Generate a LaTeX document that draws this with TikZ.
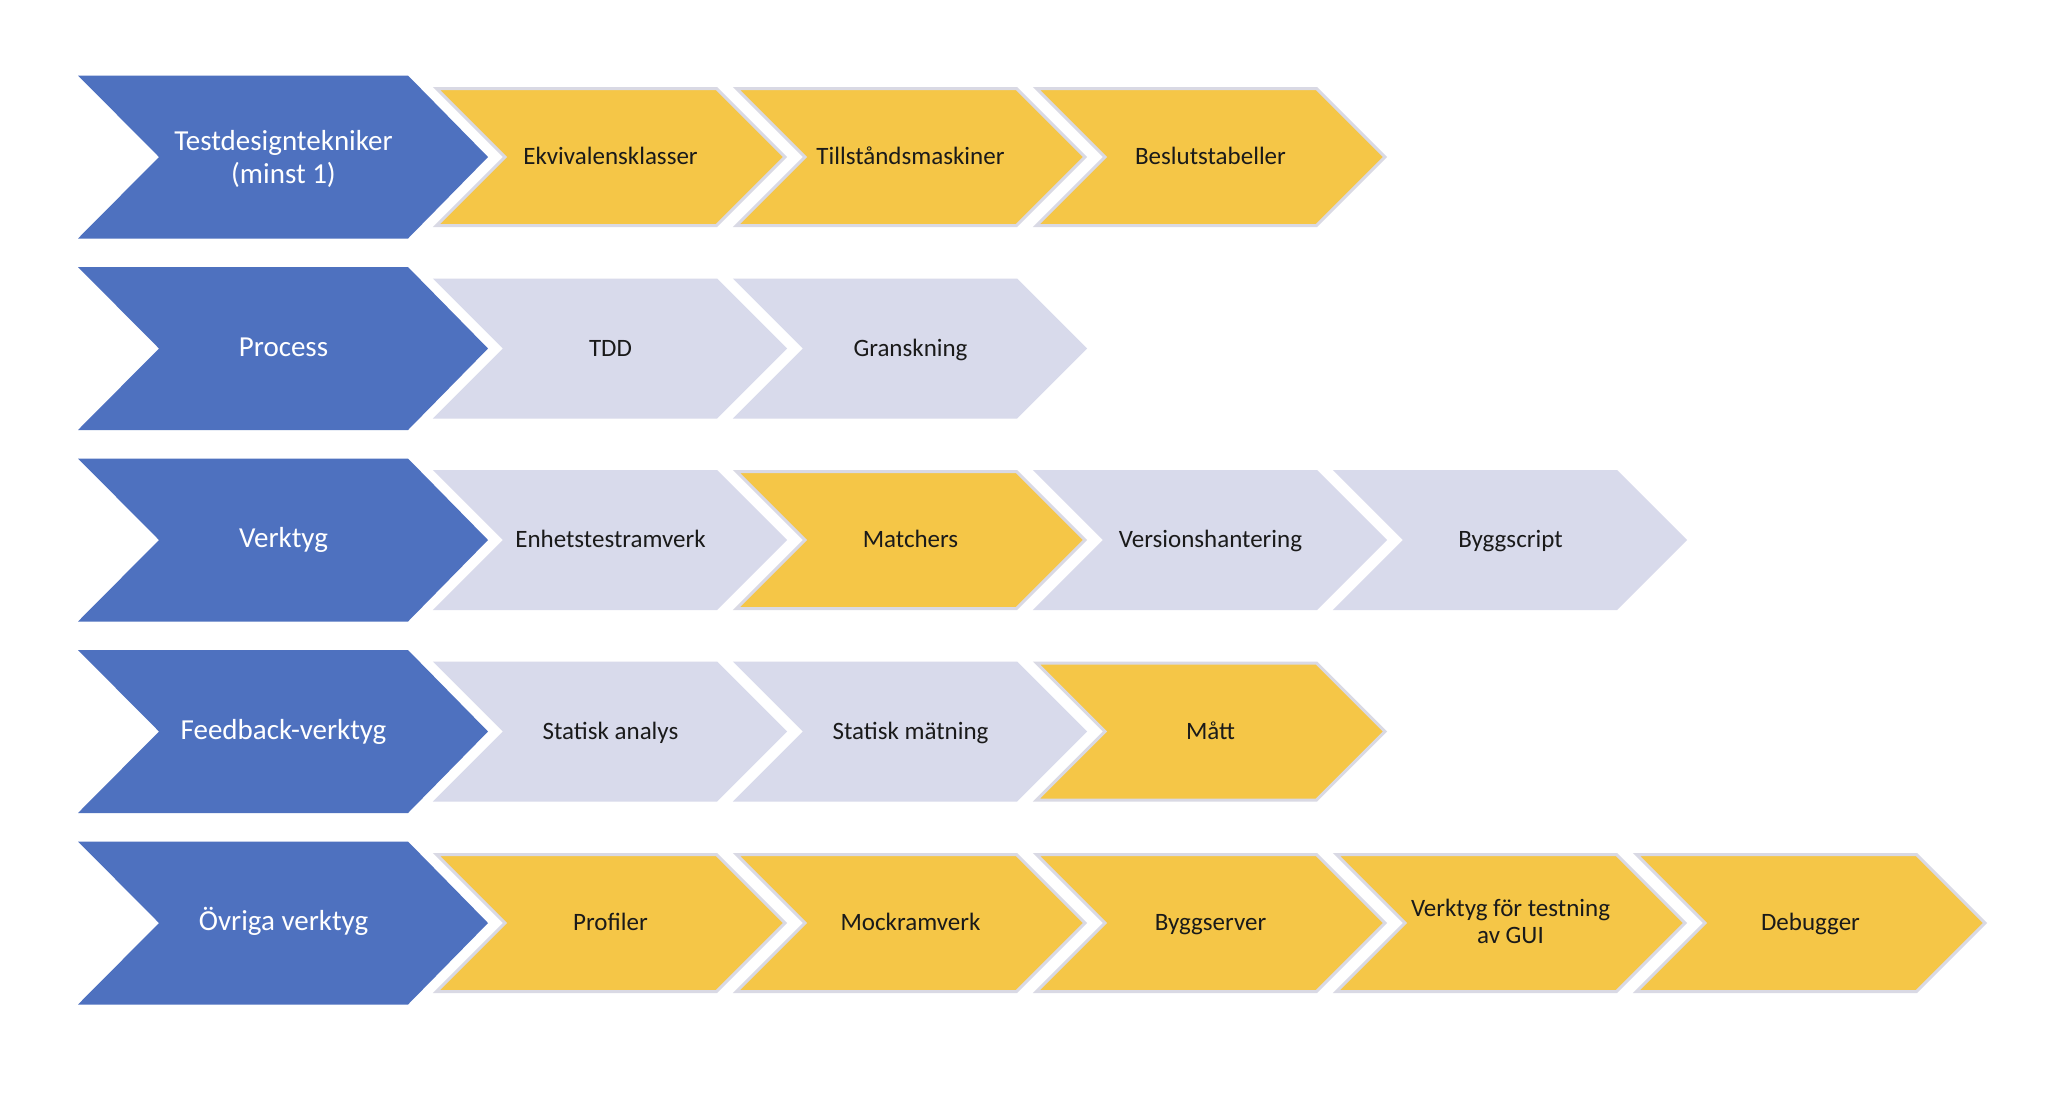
\documentclass[tikz,border=0pt]{standalone}
\usepackage{fontspec}
\setmainfont{Carlito}

\definecolor{headblue}{HTML}{4E71BF}
\definecolor{stepyellow}{HTML}{F5C647}
\definecolor{steplav}{HTML}{D8DAEB}
\definecolor{stepedge}{HTML}{D9D9E4}
\definecolor{steptextcol}{HTML}{1A1A1A}

\tikzset{
  headfill/.style={fill=headblue},
  yel/.style={fill=stepyellow, draw=stepedge, line width=1.5pt, line join=miter},
  lav/.style={fill=steplav, draw=steplav, line width=1.5pt, line join=miter},
  headtext/.style={text=white, font=\fontsize{14.5}{16.5}\selectfont, align=center, inner sep=0pt},
  steptext/.style={text=steptextcol, font=\fontsize{12.5}{13.5}\selectfont, align=center, inner sep=0pt},
  % single-line labels: fixed box so every baseline sits at the same height
  oneline/.style={text height=0.78em, text depth=0pt},
  twoline/.style={},
}

% #1 label options, #2 node name, #3 centre y, #4 label
\newcommand\headchev[4][oneline]{%
  \fill[headfill] (78,#3-81.5) -- (408,#3-81.5) -- (488,#3) -- (408,#3+81.5)
    -- (78,#3+81.5) -- (159,#3) -- cycle;
  \node[headtext,#1] (#2) at (283.5,#3) {#4};
}

% #1 label options, #2 node name, #3 column, #4 centre y, #5 fill style, #6 label
\newcommand\stepchev[6][oneline]{%
  \filldraw[#5] (436.5+300*#3,#4-68.5) -- (716.5+300*#3,#4-68.5) -- (785+300*#3,#4)
    -- (716.5+300*#3,#4+68.5) -- (436.5+300*#3,#4+68.5) -- (505+300*#3,#4) -- cycle;
  \node[steptext,#1] (#2) at (610.5+300*#3,#4) {#6};
}

\begin{document}
\begin{tikzpicture}[x=0.5pt,y=-0.5pt]
  \useasboundingbox (0,0) rectangle (2066,1100);
  \fill[white] (0,0) rectangle (2066,1100);

  % Row 1: test design techniques
  \headchev[twoline,yshift=-1pt]{h1}{157}{Testdesigntekniker\\(minst 1)}
  \stepchev{a1}{0}{157}{yel}{Ekvivalensklasser}
  \stepchev{a2}{1}{157}{yel}{Tillståndsmaskiner}
  \stepchev{a3}{2}{157}{yel}{Beslutstabeller}

  % Row 2: process
  \headchev{h2}{348.5}{Process}
  \stepchev{b1}{0}{348.5}{lav}{TDD}
  \stepchev{b2}{1}{348.5}{lav}{Granskning}

  % Row 3: tools
  \headchev{h3}{540}{Verktyg}
  \stepchev{c1}{0}{540}{lav}{Enhetstestramverk}
  \stepchev{c2}{1}{540}{yel}{Matchers}
  \stepchev{c3}{2}{540}{lav}{Versionshantering}
  \stepchev{c4}{3}{540}{lav}{Byggscript}

  % Row 4: feedback tools
  \headchev{h4}{731.5}{Feedback-verktyg}
  \stepchev{d1}{0}{731.5}{lav}{Statisk analys}
  \stepchev{d2}{1}{731.5}{lav}{Statisk mätning}
  \stepchev{d3}{2}{731.5}{yel}{Mått}

  % Row 5: other tools
  \headchev{h5}{923}{Övriga verktyg}
  \stepchev{e1}{0}{923}{yel}{Profiler}
  \stepchev{e2}{1}{923}{yel}{Mockramverk}
  \stepchev{e3}{2}{923}{yel}{Byggserver}
  \stepchev[twoline,yshift=1pt]{e4}{3}{923}{yel}{Verktyg för testning\\av GUI}
  \stepchev{e5}{4}{923}{yel}{Debugger}
\end{tikzpicture}
\end{document}
